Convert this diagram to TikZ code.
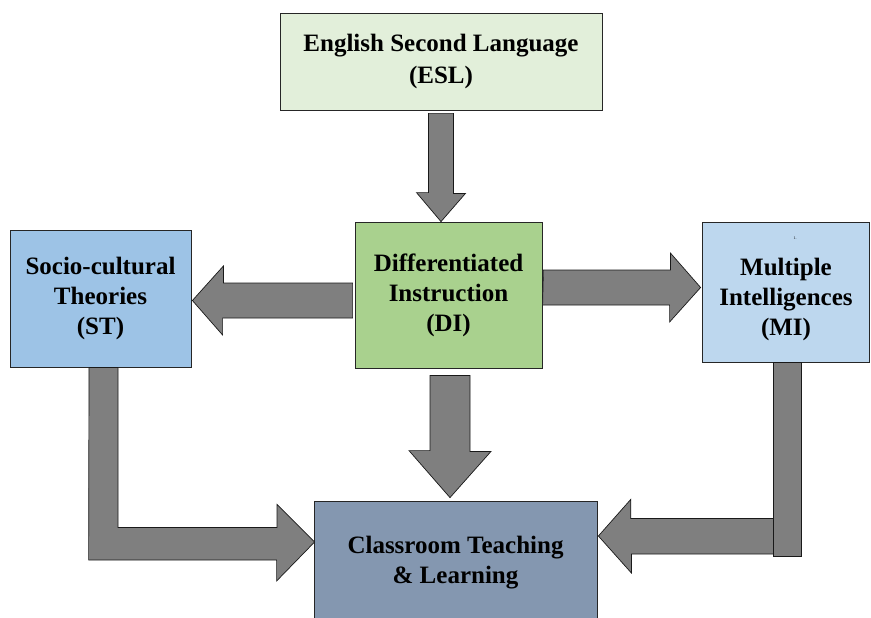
\documentclass[tikz,border=0pt]{standalone}
\usepackage{fontspec}
\setmainfont{Liberation Serif}
\usetikzlibrary{calc}

\definecolor{eslgreen}{HTML}{E2EFDA}
\definecolor{digreen}{HTML}{A9D18E}
\definecolor{stblue}{HTML}{9DC3E6}
\definecolor{miblue}{HTML}{BDD7EE}
\definecolor{ctlblue}{HTML}{8497B0}
\definecolor{arrowgray}{HTML}{7F7F7F}

\begin{document}
\begin{tikzpicture}[x=1pt,y=-1pt,
  boxtext/.style={align=center, inner sep=0pt, font=\bfseries\fontsize{25}{30}\selectfont},
  box/.style={boxtext, draw=black!85, line width=0.8pt},
  blockarrow/.style={draw=black!90, line width=0.7pt, fill=arrowgray, line join=miter}]
\useasboundingbox (0,0) rectangle (871,618);

% boxes
\node[box, fill=eslgreen, minimum width=322, minimum height=97,
  font=\bfseries\fontsize{25}{32}\selectfont] (esl) at (441,61.5) {English Second Language\\(ESL)};
\node[box, fill=digreen, minimum width=187, minimum height=146] (di) at (448.5,295) {Differentiated\\Instruction\\(DI)};
\node[box, fill=stblue, minimum width=181, minimum height=137] (st) at (100.5,298.5) {Socio-cultural\\Theories\\(ST)};
\node[box, fill=miblue, minimum width=167.5, minimum height=140] (mi) at (785.75,292) {};
\node[boxtext] (mitext) at (786,299) {Multiple\\Intelligences\\(MI)};
\node[inner sep=0pt, font=\fontsize{4}{4}\selectfont] (minote) at (795,238) {1.};
\node[box, fill=ctlblue, minimum width=283, minimum height=124] (ctl) at (455.5,563) {Classroom Teaching\\\& Learning};

% arrows
\draw[blockarrow] ($(esl.south)+(-12.5,3)$) -- ++(25,0) -- ++(0,80) -- ++(12,0)
  -- (esl.south |- di.north) -- ++(-24.5,-29) -- ++(12,0) -- cycle;
\draw[blockarrow] ($(di.west)+(-2,-12)$) -- ++(0,35) -- ++(-130,0) -- ++(0,17)
  -- ($(st.east)+(1,2)$) -- ++(31,-34.5) -- ++(0,17) -- cycle;
\draw[blockarrow] ($(di.east)+(1,-25)$) -- ++(127,0) -- ++(0,-17)
  -- ($(mi.west)+(-1,-4.5)$) -- ++(-31,34.5) -- ++(0,-17) -- ++(-127,0) -- cycle;
\draw[blockarrow] ($(di.south)+(-18.5,7)$) -- ++(40,0) -- ++(0,76) -- ++(21,0)
  -- ($(di.south |- ctl.north)+(1.5,-3)$) -- ++(-41,-47) -- ++(21,0) -- cycle;
\draw[blockarrow] ($(st.south)+(-11.5,0)$) -- ++(29,0) -- ++(0,160) -- ++(159,0) -- ++(0,-23)
  -- ($(ctl.west)+(1,-21)$) -- ++(-38,39) -- ++(0,-21) -- ++(-188,0) -- cycle;
\draw[blockarrow] ($(mi.south)+(-12,156)$) -- ++(-143,0) -- ++(0,-19)
  -- ($(ctl.east)+(1,-27)$) -- ++(33,37) -- ++(0,-19) -- ++(143,0) -- cycle;
\draw[blockarrow] ($(mi.south)+(-12,0)$) rectangle ++(28,194);
\end{tikzpicture}
\end{document}
